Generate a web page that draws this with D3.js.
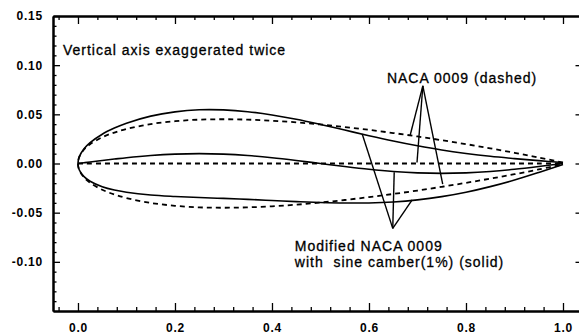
<!DOCTYPE html>
<html>
<head>
<meta charset="utf-8">
<script src="https://cdn.jsdelivr.net/npm/d3@7"></script>
<style>
  body { margin: 0; background: #fff; }
  svg { display: block; }
  .axis path, .axis line { stroke: #000; }
  .axis text { font-family: "Liberation Sans", Arial, sans-serif; font-weight: bold; font-size: 12px; letter-spacing: 0.8px; fill: #000; }
  .note { font-family: "Liberation Sans", Arial, sans-serif; font-size: 14px; letter-spacing: 1px; fill: #000; stroke: #000; stroke-width: 0.3px; }
</style>
</head>
<body>
<div id="chart"></div>
<script>
// chord stations (x/c)
var stations = [0, 0.0025, 0.0125, 0.025, 0.05, 0.075, 0.1, 0.15, 0.2, 0.25, 0.3, 0.35, 0.4,
                0.45, 0.5, 0.55, 0.6, 0.65, 0.7, 0.75, 0.8, 0.85, 0.9, 0.95, 1.0];

// NACA 0009 (dashed), upper surface; lower is its mirror
var nacaUpper = [0, 0.0065, 0.0142, 0.0196, 0.0267, 0.0315, 0.0351, 0.0401, 0.0430, 0.0446, 0.0450, 0.0446, 0.0435,
                 0.0419, 0.0397, 0.0371, 0.0342, 0.0310, 0.0275, 0.0237, 0.0197, 0.0154, 0.0109, 0.0060, 0.0010];
var nacaLower = [0, -0.0065, -0.0142, -0.0196, -0.0267, -0.0315, -0.0351, -0.0401, -0.0430, -0.0446, -0.0450, -0.0446, -0.0435,
                 -0.0419, -0.0397, -0.0371, -0.0342, -0.0310, -0.0275, -0.0237, -0.0197, -0.0154, -0.0109, -0.0060, -0.0010];

// modified NACA 0009 with sine camber (solid)
var modUpper = [0, 0.0067, 0.0150, 0.0212, 0.0298, 0.0360, 0.0410, 0.0482, 0.0525, 0.0546, 0.0545, 0.0527, 0.0494,
                0.0450, 0.0397, 0.0340, 0.0283, 0.0229, 0.0180, 0.0137, 0.0102, 0.0073, 0.0050, 0.0029, 0.0010];
var modLower = [0, -0.0063, -0.0134, -0.0180, -0.0236, -0.0270, -0.0292, -0.0320, -0.0335, -0.0346, -0.0355, -0.0365, -0.0376,
                -0.0388, -0.0397, -0.0402, -0.0401, -0.0391, -0.0370, -0.0337, -0.0292, -0.0235, -0.0168, -0.0091, -0.0010];
var camber = [0, 0.0002, 0.0008, 0.0016, 0.0031, 0.0045, 0.0059, 0.0081, 0.0095, 0.0100, 0.0095, 0.0081, 0.0059,
              0.0031, 0, -0.0031, -0.0059, -0.0081, -0.0095, -0.0100, -0.0095, -0.0081, -0.0059, -0.0031, 0];

// ticks
var xTicks = [0, 0.2, 0.4, 0.6, 0.8, 1.0];
var xTickLabels = ['0.0', '0.2', '0.4', '0.6', '0.8', '1.0'];
var yTicks = [0.15, 0.10, 0.05, 0, -0.05, -0.10];
var yTickLabels = ['0.15', '0.10', '0.05', '0.00', '-0.05', '-0.10'];

// annotation leaders: [apex, end points...] in data units
var dashedLeader = [[0.711, 0.079], [0.685, 0.029], [0.699, 0.001], [0.752, -0.021]];
var solidLeader = [[0.649, -0.066], [0.586, 0.030], [0.652, -0.009], [0.689, -0.037]];

var svgWidth = 579, svgHeight = 334;
var margin = {top: 16, right: 0, bottom: 23, left: 53};

var svg = d3.select('#chart').append('svg')
    .attr('width', svgWidth).attr('height', svgHeight);

var x = d3.scaleLinear().domain([-0.0515, 1.033]).range([margin.left, svgWidth - margin.right]);
var y = d3.scaleLinear().domain([-0.15, 0.15]).range([svgHeight - margin.bottom, margin.top]);

var xMinor = d3.range(-0.04, 1.03, 0.04).filter(function(v) { return Math.abs(v / 0.2 - Math.round(v / 0.2)) > 0.01; });
var yMinor = d3.range(-0.14, 0.15, 0.01).filter(function(v) { return Math.abs(v / 0.05 - Math.round(v / 0.05)) > 0.01; });

// bottom
svg.append('g').attr('class', 'axis')
    .attr('transform', 'translate(0,' + y.range()[0] + ')')
    .call(d3.axisBottom(x).tickValues(xMinor).tickSize(-4).tickSizeOuter(0).tickFormat(''));
svg.append('g').attr('class', 'axis')
    .attr('transform', 'translate(0,' + y.range()[0] + ')')
    .call(d3.axisBottom(x).tickValues(xTicks).tickSize(-8).tickSizeOuter(0).tickPadding(12)
        .tickFormat(function(d, i) { return xTickLabels[i]; }));

// top
svg.append('g').attr('class', 'axis')
    .attr('transform', 'translate(0,' + y.range()[1] + ')')
    .call(d3.axisTop(x).tickValues(xMinor).tickSize(-4).tickSizeOuter(0).tickFormat(''));
svg.append('g').attr('class', 'axis')
    .attr('transform', 'translate(0,' + y.range()[1] + ')')
    .call(d3.axisTop(x).tickValues(xTicks).tickSize(-8).tickSizeOuter(0).tickFormat(''));

// left
svg.append('g').attr('class', 'axis')
    .attr('transform', 'translate(' + x.range()[0] + ',0)')
    .call(d3.axisLeft(y).tickValues(yMinor).tickSize(-3.5).tickSizeOuter(0).tickFormat(''));
svg.append('g').attr('class', 'axis')
    .attr('transform', 'translate(' + x.range()[0] + ',0)')
    .call(d3.axisLeft(y).tickValues(yTicks).tickSize(-7).tickSizeOuter(0).tickPadding(10)
        .tickFormat(function(d, i) { return yTickLabels[i]; }));

// right (spine falls just off the page)
svg.append('g').attr('class', 'axis')
    .attr('transform', 'translate(' + (x.range()[1] + 0.5) + ',0)')
    .call(d3.axisRight(y).tickValues(yTicks.slice(1)).tickSize(-4).tickSizeOuter(0).tickFormat(''));

svg.selectAll('.axis path').attr('stroke-width', 2);
svg.selectAll('.axis line').attr('stroke-width', 1.3);

// airfoil outlines: trailing edge -> upper -> nose -> lower -> trailing edge
function outline(upper, lower) {
    var pts = [];
    for (var i = stations.length - 1; i >= 0; i--) pts.push([stations[i], upper[i]]);
    for (var j = 1; j < stations.length; j++) pts.push([stations[j], lower[j]]);
    return pts;
}
function pairs(vals) {
    return stations.map(function(s, i) { return [s, vals[i]]; });
}

var line = d3.line()
    .x(function(d) { return x(d[0]); })
    .y(function(d) { return y(d[1]); })
    .curve(d3.curveCatmullRom.alpha(0.5));

var plot = svg.append('g').attr('fill', 'none').attr('stroke', '#000');

// dashed: NACA 0009 and its chord line
plot.append('path')
    .attr('d', line(outline(nacaUpper, nacaLower)))
    .attr('stroke-width', 1.8).attr('stroke-dasharray', '5,4');
plot.append('path')
    .attr('d', line(pairs(stations.map(function() { return 0; }))))
    .attr('stroke-width', 1.8).attr('stroke-dasharray', '5,4');

// solid: modified section and its camber line
plot.append('path')
    .attr('d', line(outline(modUpper, modLower)))
    .attr('stroke-width', 1.6);
plot.append('path')
    .attr('d', line(pairs(camber)))
    .attr('stroke-width', 1.6);

// leaders
[dashedLeader, solidLeader].forEach(function(ld) {
    ld.slice(1).forEach(function(p) {
        plot.append('line')
            .attr('x1', x(ld[0][0])).attr('y1', y(ld[0][1]))
            .attr('x2', x(p[0])).attr('y2', y(p[1]))
            .attr('stroke-width', 1.4);
    });
});

// notes
svg.append('text').attr('class', 'note')
    .attr('x', x(-0.031)).attr('y', y(0.110))
    .text('Vertical axis exaggerated twice');
svg.append('text').attr('class', 'note')
    .attr('x', x(0.637)).attr('y', y(0.082))
    .text('NACA 0009 (dashed)');
svg.append('text').attr('class', 'note')
    .attr('x', x(0.447)).attr('y', y(-0.0885))
    .text('Modified NACA 0009');
svg.append('text').attr('class', 'note')
    .attr('x', x(0.447)).attr('y', y(-0.1055))
    .attr('xml:space', 'preserve')
    .text('with  sine camber(1%) (solid)');
</script>
</body>
</html>
